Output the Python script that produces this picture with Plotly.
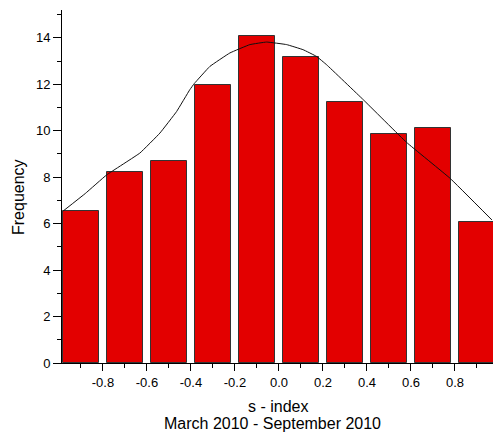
import plotly.graph_objects as go

# Histogram bins (centers) and frequencies
bin_centers = [-0.9, -0.7, -0.5, -0.3, -0.1, 0.1, 0.3, 0.5, 0.7, 0.9]
frequency = [6.56, 8.21, 8.68, 11.98, 14.09, 13.16, 11.26, 9.87, 10.1, 6.09]
bin_width = 0.16

# Fitted curve
curve_x = [-0.980, -0.88, -0.783, -0.632, -0.541, -0.465, -0.405, -0.385,
           -0.314, -0.223, -0.132, -0.056, 0.035, 0.11, 0.171, 0.217,
           0.383, 0.58, 0.777, 0.968]
curve_y = [6.55, 7.30, 8.10, 9.04, 9.90, 10.83, 11.77, 12.03,
           12.77, 13.35, 13.71, 13.82, 13.71, 13.49, 13.20, 12.84,
           11.34, 9.50, 7.96, 6.16]

x_ticks = [-0.8, -0.6, -0.4, -0.2, 0.0, 0.2, 0.4, 0.6, 0.8]
x_tick_labels = ["-0.8", "-0.6", "-0.4", "-0.2", "0.0", "0.2", "0.4", "0.6", "0.8"]
y_ticks = [0, 2, 4, 6, 8, 10, 12, 14]

fig = go.Figure()
fig.add_trace(go.Bar(
    x=bin_centers, y=frequency, width=bin_width,
    marker=dict(color="#E30000", line=dict(color="#333333", width=1)),
    showlegend=False, hoverinfo="x+y",
))
fig.add_trace(go.Scatter(
    x=curve_x, y=curve_y, mode="lines",
    line=dict(color="#111111", width=1, shape="spline", smoothing=0.25),
    showlegend=False,
))

font = dict(family="Liberation Sans, Arial, sans-serif", size=13, color="#000000")

fig.update_layout(
    width=493, height=436,
    margin=dict(l=62, r=0, t=10, b=73),
    paper_bgcolor="white", plot_bgcolor="white",
    font=font,
    bargap=0,
    xaxis=dict(
        range=[-0.986, 0.973], showgrid=False, zeroline=False,
        showline=True, linecolor="#000000", linewidth=1,
        tickmode="array", tickvals=x_ticks, ticktext=x_tick_labels,
        ticks="outside", ticklen=7, tickwidth=1, tickcolor="#000000",
        minor=dict(dtick=0.2, tick0=0.1, ticks="outside", ticklen=4,
                   tickwidth=1, tickcolor="#000000", showgrid=False),
        tickfont=dict(size=13),
    ),
    yaxis=dict(
        range=[0, 15.2], showgrid=False, zeroline=False,
        showline=True, linecolor="#000000", linewidth=1,
        tickmode="array", tickvals=y_ticks,
        ticks="outside", ticklen=8, tickwidth=1, tickcolor="#000000",
        minor=dict(dtick=1, tick0=1, ticks="outside", ticklen=4,
                   tickwidth=1, tickcolor="#000000", showgrid=False),
        tickfont=dict(size=13),
    ),
    annotations=[
        dict(text="s - index", xref="paper", yref="paper", x=(278 - 62) / 431,
             y=-(406.5 - 363) / 353, xanchor="center", yanchor="middle",
             showarrow=False, font=dict(size=16)),
        dict(text="March 2010 - September 2010", xref="paper", yref="paper",
             x=(272 - 62) / 431, y=-(423.5 - 363) / 353, xanchor="center",
             yanchor="middle", showarrow=False, font=dict(size=16)),
        dict(text="Frequency", xref="paper", yref="paper", x=(18 - 62) / 431,
             y=(363 - 197) / 353, xanchor="center", yanchor="middle",
             textangle=-90, showarrow=False, font=dict(size=16)),
    ],
)

fig.write_html(
    "out.html",
    config={"displayModeBar": False},
    post_script="document.body.style.margin='0';document.body.style.overflow='hidden';",
)
